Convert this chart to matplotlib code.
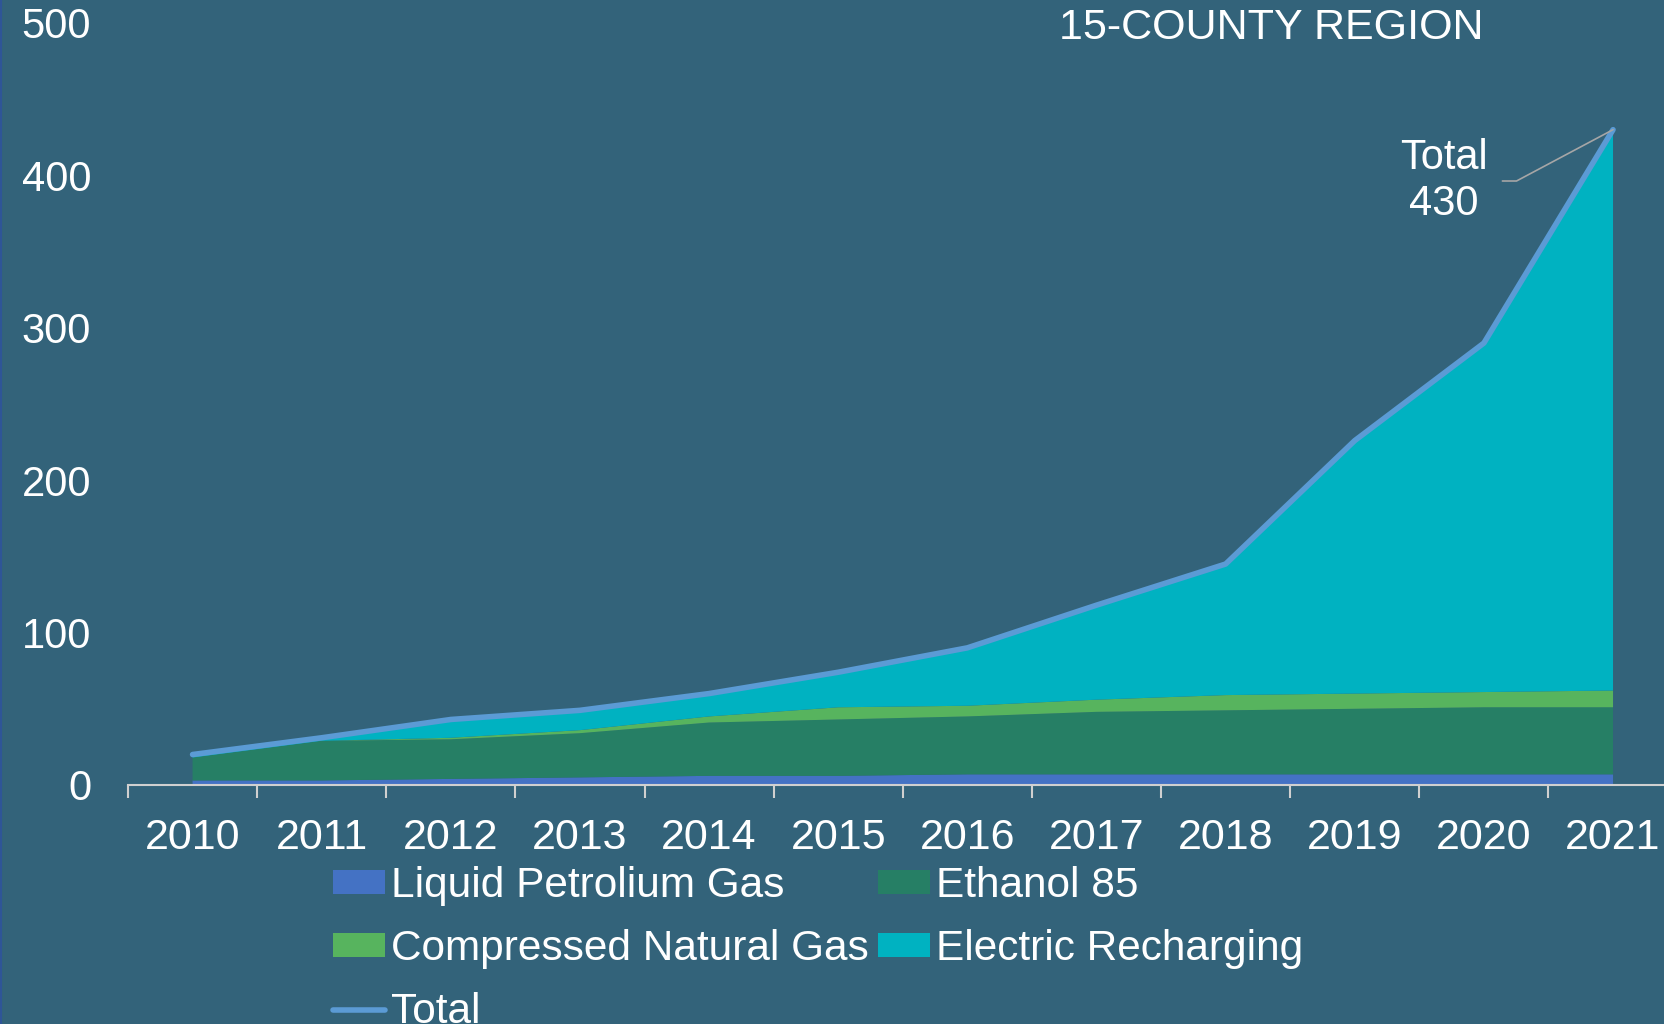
import numpy as np
import matplotlib
matplotlib.use("Agg")
import matplotlib.pyplot as plt
from matplotlib import font_manager as fm
from matplotlib.lines import Line2D

# ---------------- data ----------------
years = ["2010", "2011", "2012", "2013", "2014", "2015", "2016",
         "2017", "2018", "2019", "2020", "2021"]
lpg = [3, 3, 4, 5, 6, 6, 7, 7, 7, 7, 7, 7]
ethanol85 = [15, 26, 26, 29, 35, 37, 38, 41, 42, 43, 44, 44]
cng = [0, 0, 1, 2, 4, 8, 7, 8, 10, 10, 10, 11]
electric = [2, 2, 12, 13, 15, 23, 38, 62, 86, 166, 229, 368]
total = [20, 31, 43, 49, 60, 74, 90, 118, 145, 226, 290, 430]
series_labels = ["Liquid Petrolium Gas", "Ethanol 85",
                 "Compressed Natural Gas", "Electric Recharging"]
total_label = "Total"
y_ticks = [0, 100, 200, 300, 400, 500]
title = "15-COUNTY REGION"
annot_text = "Total\n430"

# ---------------- style ----------------
BG = "#33637A"
C_LPG = "#4472C4"
C_E85 = "#267F65"
C_CNG = "#57B45E"
C_ELEC = "#00B2C1"
C_TOT = "#5B9BD5"
C_AXIS = "#D0D0D0"

avail = {f.name for f in fm.fontManager.ttflist}
REG = "Liberation Sans" if "Liberation Sans" in avail else "DejaVu Sans"
plt.rcParams["font.family"] = [REG, "DejaVu Sans"]

W, H = 1664, 1024
fig = plt.figure(figsize=(W / 100, H / 100), dpi=100)
fig.patch.set_facecolor(BG)

left_px, right_px = 128, 1677.6
bot_px, top_px = 785, 23
ax = fig.add_axes([left_px / W, 1 - bot_px / H,
                   (right_px - left_px) / W, (bot_px - top_px) / H])
ax.set_facecolor(BG)

x = np.arange(len(years))
polys = ax.stackplot(x, lpg, ethanol85, cng, electric,
                     colors=[C_LPG, C_E85, C_CNG, C_ELEC],
                     labels=series_labels, linewidth=0, zorder=1)
line, = ax.plot(x, total, color=C_TOT, lw=4.0, solid_capstyle="round",
                solid_joinstyle="round", label=total_label, zorder=3)

ax.set_xlim(-0.5, len(years) - 0.5)
ax.set_ylim(0, 500)

for s in ["top", "right", "left"]:
    ax.spines[s].set_visible(False)
ax.spines["bottom"].set_color(C_AXIS)
ax.spines["bottom"].set_linewidth(1.5)
ax.spines["bottom"].set_zorder(4)

ax.set_yticks(y_ticks)
ax.set_yticklabels([str(v) for v in y_ticks])
ax.tick_params(axis="y", length=0, pad=26.5, labelsize=30, labelcolor="white")

ax.set_xticks(np.arange(-0.5, len(years), 1.0))
ax.set_xticklabels([])
ax.tick_params(axis="x", which="major", direction="out", length=9,
               width=1.5, color=C_AXIS)
ax.set_xticks(x, minor=True)
ax.set_xticklabels(years, minor=True)
ax.tick_params(axis="x", which="minor", length=0, pad=23.8, labelsize=31,
               labelcolor="white")

# title
fig.text(1271 / W, 1 - 39 / H, title, ha="center", va="baseline",
         fontsize=31, color="white")

# annotation for total
ax.annotate(annot_text, xy=(x[-1], total[-1]), xycoords="data",
            xytext=(1444, H - 181), textcoords="figure pixels",
            ha="center", va="center", fontsize=30, color="white",
            linespacing=1.17,
            arrowprops=dict(arrowstyle="-", color="#A6A6A6", lw=1.2,
                            shrinkA=8.5, shrinkB=0, relpos=(1, 0.5),
                            connectionstyle="angle,angleA=0,angleB=28,rad=0"),
            zorder=5)

# legend
h = list(polys) + [line]
order = [h[0], h[2], h[4], h[1], h[3]]
leg = fig.legend(handles=order, ncol=2, loc="upper left",
                 bbox_to_anchor=(333 / W, 1 - 866 / H),
                 frameon=False, fontsize=30.5,
                 labelcolor="white", handlelength=1.23, handleheight=0.51,
                 handletextpad=0.14, columnspacing=0.21, labelspacing=0.545,
                 borderpad=0, borderaxespad=0)

# thin left border
fig.add_artist(Line2D([1 / W, 1 / W], [0, 1], color="#2F5597", lw=1.5,
                      transform=fig.transFigure))

fig.savefig("out.png", dpi=100, facecolor=BG)
